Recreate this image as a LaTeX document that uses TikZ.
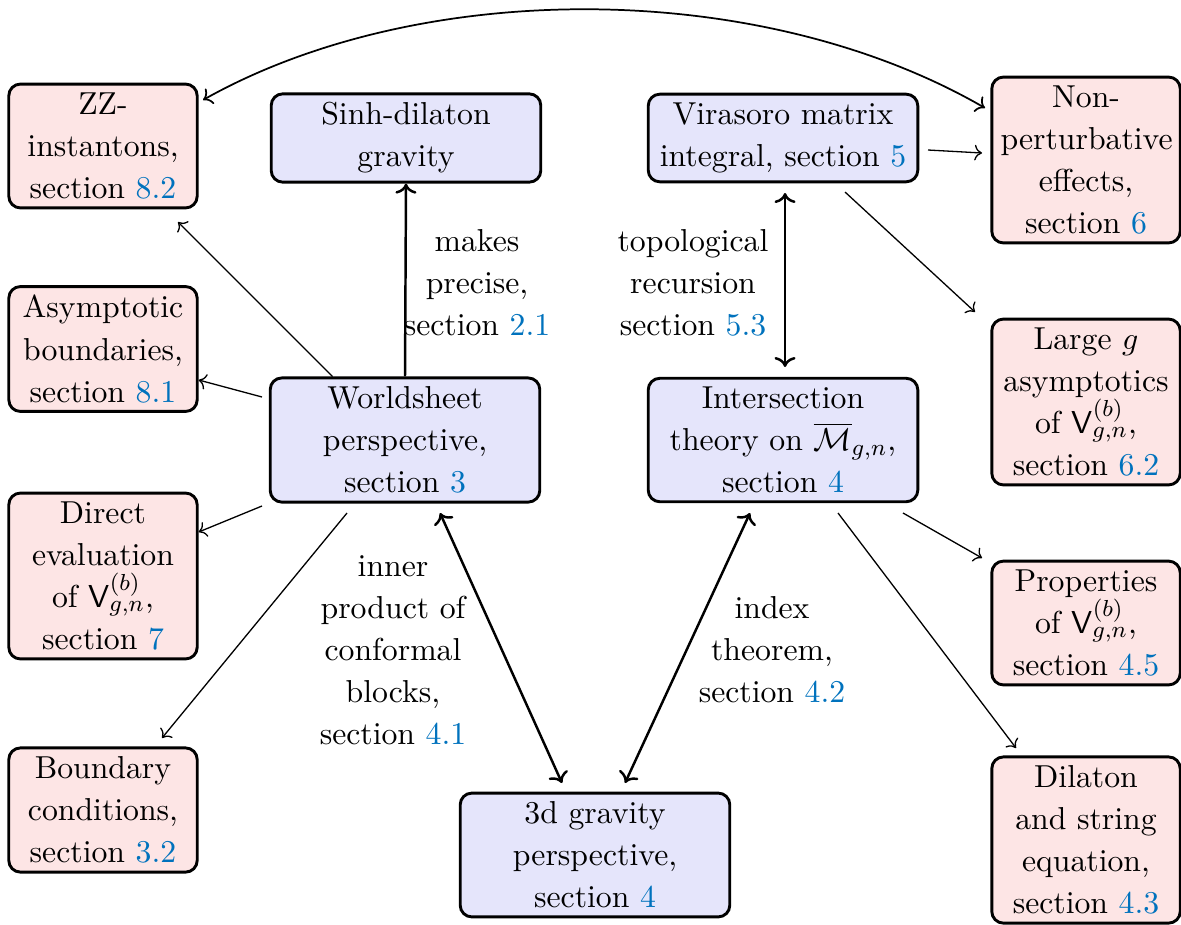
\documentclass[tikz,border=0pt]{standalone}
\usepackage{amsmath,amssymb}
\usetikzlibrary{arrows.meta}
\definecolor{refblue}{RGB}{0,114,189}
\definecolor{bluefill}{RGB}{229,229,251}
\definecolor{pinkfill}{RGB}{253,229,229}
\newcommand{\secref}[1]{\textcolor{refblue}{#1}}
\newcommand{\Vgn}{\ensuremath{\mathsf{V}^{(b)}_{g,n}}}
\tikzset{
  base/.style={draw, line width=1pt, rounded corners=4pt, align=center, inner sep=3pt,
    font=\fontsize{10.95}{14.5}\selectfont},
  bluebox/.style={base, fill=bluefill, text width=87pt},
  pinkbox/.style={base, fill=pinkfill, text width=59pt},
  lbl/.style={align=center, font=\fontsize{10.95}{14.5}\selectfont},
  thinarr/.style={->, line width=0.45pt},
  thickarr/.style={line width=0.85pt}
}
\begin{document}
\begin{tikzpicture}[x=0.345pt, y=-0.345pt]
\useasboundingbox (0,0) rectangle (1181,924);
% blue nodes
\node[bluebox] (sinh) at (406,138) {Sinh-dilaton\\gravity};
\node[bluebox] (world) at (405,440) {Worldsheet\\perspective,\\section \secref{3}};
\node[bluebox] (grav) at (595,855) {3d gravity\\perspective,\\section \secref{4}};
\node[bluebox] (vir) at (783,138) {Virasoro matrix\\integral, section \secref{5}};
\node[bluebox] (inter) at (783,440) {Intersection\\theory on $\overline{\mathcal{M}}_{g,n}$,\\section \secref{4}};
% pink nodes left
\node[pinkbox] (zz) at (103,146) {ZZ-\\instantons,\\section \secref{8.2}};
\node[pinkbox] (asym) at (103,349) {Asymptotic\\boundaries,\\section \secref{8.1}};
\node[pinkbox] (direct) at (103,576) {Direct\\evaluation\\of \Vgn,\\section \secref{7}};
\node[pinkbox] (bound) at (103,810) {Boundary\\conditions,\\section \secref{3.2}};
% pink nodes right
\node[pinkbox] (nonp) at (1086,160) {Non-\\perturbative\\effects,\\section \secref{6}};
\node[pinkbox] (large) at (1086,402) {Large $g$\\asymptotics\\of \Vgn,\\section \secref{6.2}};
\node[pinkbox] (prop) at (1086,623) {Properties\\of \Vgn,\\section \secref{4.5}};
\node[pinkbox] (dil) at (1086,840) {Dilaton\\and string\\equation,\\section \secref{4.3}};
% labels
\node[lbl] (l1) at (477,283) {makes\\precise,\\section \secref{2.1}};
\node[lbl] (l2) at (693,283) {topological\\recursion\\section \secref{5.3}};
\node[lbl] (l3) at (393,650) {inner\\product of\\conformal\\blocks,\\section \secref{4.1}};
\node[lbl] (l4) at (772,650) {index\\theorem,\\section \secref{4.2}};
% connectors
\coordinate (cz) at (203,100);
\coordinate (cn) at (985,108);
\draw[<->, line width=0.6pt] (cz) .. controls (420,-22) and (760,-22) .. (cn);
\draw[thickarr, ->] (world.north) -- (sinh.south);
\draw[thinarr] ([xshift=-25pt]world.north) -- (178,222);
\draw[thinarr] (262,397) -- (asym.east |- 0,380);
\draw[thinarr] (262,506) -- (direct.east |- 0,532);
\draw[thinarr] (347,513) -- (162,738);
\draw[thickarr, <->] (440,513) -- (562,783);
\draw[thickarr, <->] (750,513) -- (625,783);
\draw[thickarr, <->] (785,193) -- (785,367);
\draw[thinarr] (928,150) -- (982,153);
\draw[thinarr] (845,192) -- (975,312);
\draw[thinarr] (903,513) -- (982,558);
\draw[thinarr] (838,513) -- (1016,748);
\end{tikzpicture}
\end{document}
